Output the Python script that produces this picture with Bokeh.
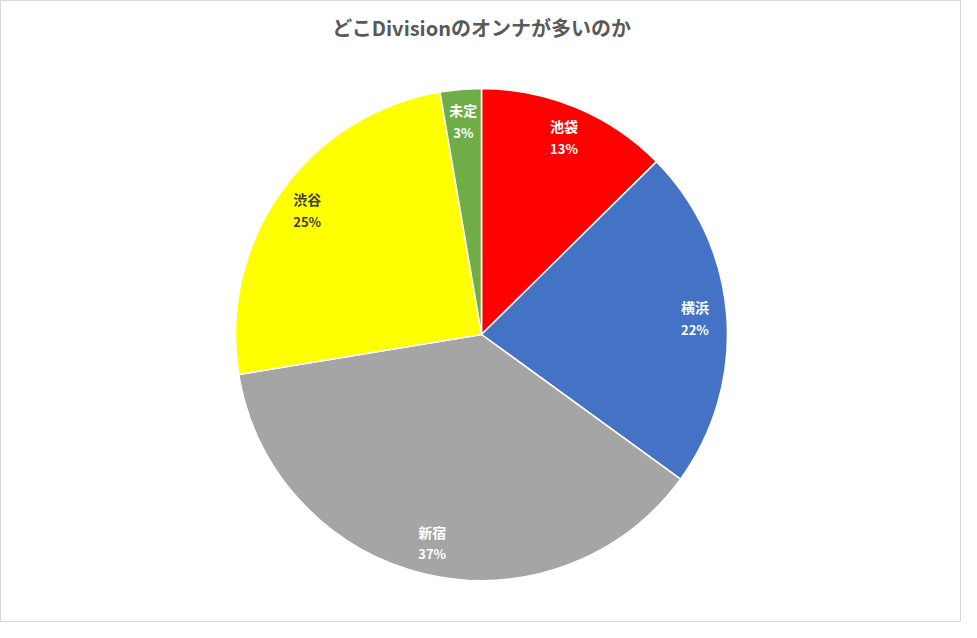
import math
from bokeh.plotting import figure
from bokeh.models import Range1d, ColumnDataSource
from bokeh.core.properties import value
from bokeh.embed import file_html
from bokeh.resources import INLINE

title = "どこDivisionのオンナが多いのか"
categories = ["池袋", "横浜", "新宿", "渋谷", "未定"]
shares = [12.6, 22.4, 37.4, 24.9, 2.7]
colors = ["#FF0000", "#4472C4", "#A5A5A5", "#FFFF00", "#70AD47"]
label_colors = ["#FFFFFF", "#FFFFFF", "#FFFFFF", "#404040", "#FFFFFF"]

W, H = 961, 622
cx, cy, R = 481, H - 334, 246
label_r = 214

total = sum(shares)
starts, ends, lx, ly, pct = [], [], [], [], []
cum = 0.0
for s in shares:
    a0 = math.pi / 2 - 2 * math.pi * cum / total
    cum += s
    a1 = math.pi / 2 - 2 * math.pi * cum / total
    starts.append(a0)
    ends.append(a1)
    mid = (a0 + a1) / 2
    lx.append(cx + label_r * math.cos(mid))
    ly.append(cy + label_r * math.sin(mid))
    pct.append(f"{round(100 * s / total)}%")

src = ColumnDataSource(dict(
    cat=categories, start=starts, end=ends, color=colors,
    lx=lx, ly_name=[v + 11 for v in ly], ly_pct=[v - 11 for v in ly],
    pct=pct, lc=label_colors,
))

p = figure(width=W, height=H, output_backend="svg", toolbar_location=None,
           x_range=Range1d(0, W), y_range=Range1d(0, H), min_border=0)
p.axis.visible = False
p.grid.visible = False
p.background_fill_color = "white"
p.border_fill_color = "white"
p.outline_line_color = "#D9D9D9"
p.outline_line_width = 1

p.wedge(x=cx, y=cy, radius=R, start_angle="start", end_angle="end",
        direction="clock", fill_color="color", line_color="white",
        line_width=1.5, source=src)

font = value("Noto Sans CJK JP")
p.text(x="lx", y="ly_name", text="cat", text_color="lc", source=src,
       text_font=font, text_font_size="14px", text_font_style="bold",
       text_align="center", text_baseline="middle")
p.text(x="lx", y="ly_pct", text="pct", text_color="lc", source=src,
       text_font=font, text_font_size="13px", text_font_style="bold",
       text_align="center", text_baseline="middle")

p.text(x=[W / 2 + 1], y=[H - 27], text=[title], text_color="#595959",
       text_font=font, text_font_size="20px", text_font_style="bold",
       text_align="center", text_baseline="middle")

open("out.html", "w").write(file_html(p, INLINE))
